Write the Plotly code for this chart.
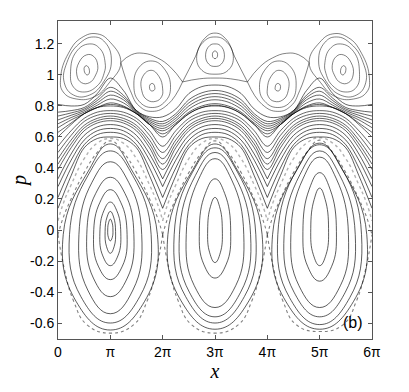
import plotly.graph_objects as go

# Poincare section: x in units of pi, momentum p

# main resonance islands around x = pi, 3pi, 5pi (closed orbits)
isl1_x = [
    [1.05, 1.036, 1, 0.964, 0.95, 0.969, 1, 1.031, 1.05],
    [1.1, 1.072, 1, 0.928, 0.9, 0.938, 1, 1.062, 1.1],
    [1.2, 1.144, 1, 0.856, 0.8, 0.876, 1, 1.124, 1.2],
    [1.32, 1.23, 1, 0.77, 0.68, 0.802, 1, 1.198, 1.32],
    [1.45, 1.324, 1, 0.676, 0.55, 0.721, 1, 1.279, 1.45],
    [1.6, 1.432, 1, 0.568, 0.4, 0.65, 1, 1.35, 1.6],
    [1.78, 1.562, 1, 0.438, 0.22, 0.57, 1, 1.43, 1.78],
    [1.9, 1.655, 1, 0.345, 0.1, 0.58, 1, 1.42, 1.9],
]
isl1_p = [
    [0, -0.049, -0.07, -0.049, 0, 0.05, 0.07, 0.05, 0],
    [-0.01, -0.108, -0.15, -0.108, -0.01, 0.084, 0.12, 0.084, -0.01],
    [-0.02, -0.167, -0.23, -0.167, -0.02, 0.124, 0.18, 0.124, -0.02],
    [-0.03, -0.233, -0.32, -0.233, -0.03, 0.179, 0.26, 0.179, -0.03],
    [-0.03, -0.31, -0.43, -0.31, -0.03, 0.236, 0.34, 0.236, -0.03],
    [-0.03, -0.387, -0.54, -0.387, -0.03, 0.308, 0.44, 0.308, -0.03],
    [-0.03, -0.43, -0.6, -0.43, -0.03, 0.35, 0.51, 0.35, -0.03],
    [-0.03, -0.46, -0.645, -0.46, -0.03, 0.38, 0.555, 0.38, -0.03],
]
isl3_x = [
    [3.14, 3.101, 3, 2.899, 2.86, 2.913, 3, 3.087, 3.14],
    [3.3, 3.216, 3, 2.784, 2.7, 2.814, 3, 3.186, 3.3],
    [3.55, 3.396, 3, 2.604, 2.45, 2.681, 3, 3.319, 3.55],
    [3.68, 3.49, 3, 2.51, 2.32, 2.626, 3, 3.374, 3.68],
    [3.78, 3.562, 3, 2.438, 2.22, 2.57, 3, 3.43, 3.78],
    [3.9, 3.648, 3, 2.352, 2.1, 2.57, 3, 3.43, 3.9],
]
isl3_p = [
    [0, -0.147, -0.21, -0.147, 0, 0.151, 0.21, 0.151, 0],
    [-0.01, -0.22, -0.31, -0.22, -0.01, 0.235, 0.33, 0.235, -0.01],
    [-0.03, -0.359, -0.5, -0.359, -0.03, 0.323, 0.46, 0.323, -0.03],
    [-0.03, -0.401, -0.56, -0.401, -0.03, 0.352, 0.5, 0.352, -0.03],
    [-0.03, -0.429, -0.6, -0.429, -0.03, 0.373, 0.53, 0.373, -0.03],
    [-0.03, -0.457, -0.64, -0.457, -0.03, 0.385, 0.555, 0.385, -0.03],
]
isl5_x = [
    [5.17, 5.122, 5, 4.878, 4.83, 4.895, 5, 5.105, 5.17],
    [5.32, 5.23, 5, 4.77, 4.68, 4.802, 5, 5.198, 5.32],
    [5.55, 5.396, 5, 4.604, 4.45, 4.681, 5, 5.319, 5.55],
    [5.68, 5.49, 5, 4.51, 4.32, 4.626, 5, 5.374, 5.68],
    [5.8, 5.576, 5, 4.424, 4.2, 4.56, 5, 5.44, 5.8],
    [5.9, 5.648, 5, 4.352, 4.1, 4.57, 5, 5.43, 5.9],
]
isl5_p = [
    [0.01, -0.158, -0.23, -0.158, 0.01, 0.197, 0.27, 0.197, 0.01],
    [-0.01, -0.234, -0.33, -0.234, -0.01, 0.264, 0.37, 0.264, -0.01],
    [-0.03, -0.359, -0.5, -0.359, -0.03, 0.33, 0.47, 0.33, -0.03],
    [-0.03, -0.401, -0.56, -0.401, -0.03, 0.359, 0.51, 0.359, -0.03],
    [-0.03, -0.436, -0.61, -0.436, -0.03, 0.388, 0.55, 0.388, -0.03],
    [-0.03, -0.46, -0.64, -0.46, -0.03, 0.39, 0.56, 0.39, -0.03],
]

# separatrix arcs of the main islands (meeting at x = 0, 2pi, 4pi, 6pi)
sep_x = [
    [0, 0.1, 0.25, 0.5, 0.75, 1, 1.25, 1.5, 1.75, 1.9, 2],
    [0, 0.12, 0.3, 0.55, 1, 1.45, 1.7, 1.88, 2],
    [2, 2.1, 2.25, 2.5, 2.75, 3, 3.25, 3.5, 3.75, 3.9, 4],
    [2, 2.12, 2.3, 2.55, 3, 3.45, 3.7, 3.88, 4],
    [4, 4.1, 4.25, 4.5, 4.75, 5, 5.25, 5.5, 5.75, 5.9, 6],
    [4, 4.12, 4.3, 4.55, 5, 5.45, 5.7, 5.88, 6],
]
sep_p = [
    [-0.03, 0.08, 0.2, 0.37, 0.5, 0.575, 0.5, 0.37, 0.2, 0.08, -0.03],
    [-0.03, -0.25, -0.46, -0.61, -0.665, -0.61, -0.46, -0.25, -0.03],
    [-0.03, 0.08, 0.2, 0.37, 0.5, 0.575, 0.5, 0.37, 0.2, 0.08, -0.03],
    [-0.03, -0.25, -0.46, -0.61, -0.665, -0.61, -0.46, -0.25, -0.03],
    [-0.03, 0.08, 0.2, 0.37, 0.5, 0.58, 0.5, 0.37, 0.2, 0.08, -0.03],
    [-0.03, -0.25, -0.46, -0.61, -0.655, -0.61, -0.46, -0.25, -0.03],
]

# chaotic layer just outside the upper separatrix
layer_x = [
    [0, 0.1, 0.25, 0.5, 0.75, 1, 1.25, 1.5, 1.75, 1.9, 2],
    [2, 2.1, 2.25, 2.5, 2.75, 3, 3.25, 3.5, 3.75, 3.9, 4],
    [4, 4.1, 4.25, 4.5, 4.75, 5, 5.25, 5.5, 5.75, 5.9, 6],
]
layer_p = [
    [0.06, 0.17, 0.29, 0.46, 0.56, 0.59, 0.56, 0.46, 0.29, 0.17, 0.06],
    [0.06, 0.17, 0.29, 0.46, 0.56, 0.59, 0.56, 0.46, 0.29, 0.17, 0.06],
    [0.06, 0.17, 0.29, 0.46, 0.56, 0.595, 0.56, 0.46, 0.29, 0.17, 0.06],
]

# rotational (wavy) orbits, sampled every pi/4
rot_x = [0, 0.25, 0.5, 0.75, 1, 1.25, 1.5, 1.75, 2, 2.25, 2.5, 2.75, 3,
         3.25, 3.5, 3.75, 4, 4.25, 4.5, 4.75, 5, 5.25, 5.5, 5.75, 6]
rot_low_p = [
    [0.14, 0.35, 0.53, 0.59, 0.6, 0.59, 0.53, 0.35, 0.14, 0.35, 0.53, 0.59, 0.6,
     0.59, 0.53, 0.35, 0.14, 0.35, 0.53, 0.59, 0.6, 0.59, 0.53, 0.35, 0.14],
    [0.21, 0.4, 0.55, 0.615, 0.63, 0.615, 0.55, 0.4, 0.21, 0.4, 0.55, 0.615, 0.63,
     0.615, 0.55, 0.4, 0.21, 0.4, 0.55, 0.615, 0.63, 0.615, 0.55, 0.4, 0.21],
    [0.28, 0.45, 0.58, 0.64, 0.655, 0.64, 0.58, 0.45, 0.28, 0.45, 0.58, 0.64, 0.655,
     0.64, 0.58, 0.45, 0.28, 0.45, 0.58, 0.64, 0.655, 0.64, 0.58, 0.45, 0.28],
    [0.33, 0.49, 0.61, 0.665, 0.68, 0.665, 0.61, 0.49, 0.33, 0.49, 0.61, 0.665, 0.68,
     0.665, 0.61, 0.49, 0.33, 0.49, 0.61, 0.665, 0.68, 0.665, 0.61, 0.49, 0.33],
]
rot_mid_p = [
    [0.39, 0.53, 0.64, 0.69, 0.705, 0.69, 0.64, 0.53, 0.39, 0.53, 0.64, 0.69, 0.705,
     0.69, 0.64, 0.53, 0.39, 0.53, 0.64, 0.69, 0.705, 0.69, 0.64, 0.53, 0.39],
    [0.425, 0.555, 0.658, 0.705, 0.72, 0.705, 0.658, 0.555, 0.425, 0.555, 0.658, 0.705, 0.72,
     0.705, 0.658, 0.555, 0.425, 0.555, 0.658, 0.705, 0.72, 0.705, 0.658, 0.555, 0.425],
    [0.46, 0.58, 0.675, 0.72, 0.735, 0.72, 0.675, 0.58, 0.46, 0.58, 0.675, 0.72, 0.735,
     0.72, 0.675, 0.58, 0.46, 0.58, 0.675, 0.72, 0.735, 0.72, 0.675, 0.58, 0.46],
    [0.5, 0.61, 0.7, 0.74, 0.752, 0.74, 0.7, 0.61, 0.5, 0.61, 0.7, 0.74, 0.752,
     0.74, 0.7, 0.61, 0.5, 0.61, 0.7, 0.74, 0.752, 0.74, 0.7, 0.61, 0.5],
    [0.54, 0.64, 0.72, 0.76, 0.77, 0.76, 0.72, 0.64, 0.54, 0.64, 0.72, 0.76, 0.77,
     0.76, 0.72, 0.64, 0.54, 0.64, 0.72, 0.76, 0.77, 0.76, 0.72, 0.64, 0.54],
    [0.6, 0.68, 0.75, 0.79, 0.8, 0.79, 0.75, 0.68, 0.6, 0.68, 0.75, 0.79, 0.8,
     0.79, 0.75, 0.68, 0.6, 0.68, 0.75, 0.79, 0.8, 0.79, 0.75, 0.68, 0.6],
    [0.63, 0.69, 0.75, 0.79, 0.81, 0.795, 0.75, 0.68, 0.62, 0.68, 0.75, 0.79, 0.805,
     0.79, 0.75, 0.68, 0.62, 0.68, 0.75, 0.795, 0.81, 0.79, 0.75, 0.69, 0.63],
    [0.66, 0.71, 0.75, 0.79, 0.82, 0.8, 0.75, 0.68, 0.64, 0.69, 0.76, 0.8, 0.815,
     0.8, 0.76, 0.69, 0.64, 0.68, 0.75, 0.8, 0.82, 0.79, 0.75, 0.71, 0.66],
    [0.685, 0.725, 0.76, 0.805, 0.845, 0.82, 0.755, 0.69, 0.655, 0.705, 0.78, 0.825, 0.84,
     0.825, 0.78, 0.705, 0.655, 0.69, 0.755, 0.82, 0.845, 0.805, 0.76, 0.725, 0.685],
    [0.71, 0.74, 0.77, 0.82, 0.87, 0.84, 0.76, 0.7, 0.67, 0.72, 0.8, 0.845, 0.86,
     0.845, 0.8, 0.72, 0.67, 0.7, 0.76, 0.84, 0.87, 0.82, 0.77, 0.74, 0.71],
    [0.735, 0.755, 0.78, 0.835, 0.895, 0.855, 0.765, 0.71, 0.685, 0.735, 0.82, 0.865, 0.88,
     0.865, 0.82, 0.735, 0.685, 0.71, 0.765, 0.855, 0.895, 0.835, 0.78, 0.755, 0.735],
    [0.76, 0.77, 0.79, 0.85, 0.92, 0.87, 0.77, 0.72, 0.7, 0.75, 0.84, 0.885, 0.9,
     0.885, 0.84, 0.75, 0.7, 0.72, 0.77, 0.87, 0.92, 0.85, 0.79, 0.77, 0.76],
    [0.81, 0.8, 0.81, 0.88, 0.98, 0.9, 0.77, 0.73, 0.73, 0.78, 0.88, 0.925, 0.935,
     0.925, 0.88, 0.78, 0.73, 0.73, 0.77, 0.9, 0.98, 0.88, 0.81, 0.8, 0.81],
]

# upper island chain near p = 1 (centres ~0.55pi, 1.8pi, 3pi, 4.2pi, 5.45pi)
chain_x = [
    [0.6, 0.58, 0.54, 0.505, 0.5, 0.52, 0.56, 0.595, 0.6],
    [0.76, 0.68, 0.55, 0.4, 0.36, 0.45, 0.6, 0.72, 0.76],
    [0.9, 0.8, 0.6, 0.35, 0.24, 0.3, 0.5, 0.75, 0.88, 0.9],
    [1.02, 0.9, 0.68, 0.4, 0.17, 0.12, 0.3, 0.6, 0.88, 1.02],
    [1.2, 1.0, 0.75, 0.45, 0.2, 0.05, 0.1, 0.35, 0.7, 0.98, 1.2],
    [1.85, 1.83, 1.79, 1.755, 1.75, 1.77, 1.81, 1.845, 1.85],
    [2.0, 1.93, 1.78, 1.62, 1.6, 1.7, 1.87, 1.98, 2.0],
    [2.15, 2.03, 1.8, 1.55, 1.45, 1.55, 1.8, 2.05, 2.15],
    [1.2, 1.4, 1.63, 1.9, 2.15, 2.38],
    [1.2, 1.38, 1.55, 1.8, 2.1, 2.38],
    [3.05, 3.035, 3.0, 2.965, 2.95, 2.965, 3.0, 3.035, 3.05],
    [3.18, 3.1, 3.0, 2.9, 2.82, 2.88, 3.0, 3.12, 3.18],
    [3.35, 3.2, 3.0, 2.8, 2.65, 2.75, 3.0, 3.25, 3.35],
    [2.38, 2.6, 2.8, 3.0, 3.2, 3.4, 3.62],
    [2.38, 2.7, 3.0, 3.3, 3.62],
    [4.15, 4.17, 4.21, 4.245, 4.25, 4.23, 4.19, 4.155, 4.15],
    [4.0, 4.07, 4.22, 4.38, 4.4, 4.3, 4.13, 4.02, 4.0],
    [3.85, 3.97, 4.2, 4.45, 4.55, 4.45, 4.2, 3.95, 3.85],
    [3.62, 3.85, 4.1, 4.37, 4.6, 4.8],
    [3.62, 3.9, 4.2, 4.45, 4.62, 4.8],
    [5.4, 5.42, 5.46, 5.495, 5.5, 5.48, 5.44, 5.405, 5.4],
    [5.24, 5.32, 5.45, 5.6, 5.64, 5.55, 5.4, 5.28, 5.24],
    [5.1, 5.2, 5.4, 5.65, 5.76, 5.7, 5.5, 5.25, 5.12, 5.1],
    [4.98, 5.1, 5.32, 5.6, 5.83, 5.88, 5.7, 5.4, 5.12, 4.98],
    [4.8, 5.0, 5.25, 5.55, 5.8, 5.95, 5.9, 5.65, 5.3, 5.02, 4.8],
]
chain_p = [
    [1.03, 1.05, 1.06, 1.05, 1.03, 1.01, 1.0, 1.01, 1.03],
    [1.06, 1.12, 1.13, 1.08, 1.0, 0.95, 0.95, 1.0, 1.06],
    [1.08, 1.17, 1.2, 1.15, 1.02, 0.92, 0.89, 0.93, 1.01, 1.08],
    [1.09, 1.21, 1.245, 1.2, 1.08, 0.95, 0.87, 0.87, 0.96, 1.09],
    [1.08, 1.21, 1.265, 1.24, 1.14, 0.98, 0.89, 0.845, 0.86, 0.95, 1.08],
    [0.92, 0.94, 0.945, 0.935, 0.915, 0.9, 0.897, 0.905, 0.92],
    [0.91, 0.99, 1.03, 0.99, 0.9, 0.84, 0.83, 0.86, 0.91],
    [0.92, 1.04, 1.09, 1.05, 0.93, 0.83, 0.79, 0.83, 0.92],
    [1.08, 1.13, 1.14, 1.11, 1.05, 0.955],
    [1.08, 0.9, 0.8, 0.765, 0.81, 0.955],
    [1.13, 1.148, 1.155, 1.148, 1.13, 1.112, 1.105, 1.112, 1.13],
    [1.13, 1.19, 1.2, 1.19, 1.13, 1.07, 1.055, 1.07, 1.13],
    [1.12, 1.22, 1.245, 1.22, 1.12, 1.03, 1.005, 1.03, 1.12],
    [0.955, 1.1, 1.235, 1.27, 1.235, 1.1, 0.955],
    [0.955, 0.975, 0.98, 0.975, 0.955],
    [0.92, 0.94, 0.945, 0.935, 0.915, 0.9, 0.897, 0.905, 0.92],
    [0.91, 0.99, 1.03, 0.99, 0.9, 0.84, 0.83, 0.86, 0.91],
    [0.92, 1.04, 1.09, 1.05, 0.93, 0.83, 0.79, 0.83, 0.92],
    [0.955, 1.05, 1.11, 1.14, 1.13, 1.08],
    [0.955, 0.81, 0.765, 0.8, 0.9, 1.08],
    [1.03, 1.05, 1.06, 1.05, 1.03, 1.01, 1.0, 1.01, 1.03],
    [1.06, 1.12, 1.13, 1.08, 1.0, 0.95, 0.95, 1.0, 1.06],
    [1.08, 1.17, 1.2, 1.15, 1.02, 0.92, 0.89, 0.93, 1.01, 1.08],
    [1.09, 1.21, 1.245, 1.2, 1.08, 0.95, 0.87, 0.87, 0.96, 1.09],
    [1.08, 1.21, 1.265, 1.24, 1.14, 0.98, 0.89, 0.845, 0.86, 0.95, 1.08],
]

x_ticks = [0, 1, 2, 3, 4, 5, 6]
x_labels = ["0", "π", "2π", "3π", "4π", "5π", "6π"]
y_ticks = [-0.6, -0.4, -0.2, 0, 0.2, 0.4, 0.6, 0.8, 1, 1.2]
y_labels = ["-0.6", "-0.4", "-0.2", "0", "0.2", "0.4", "0.6", "0.8", "1", "1.2"]

fig = go.Figure()


def add_curves(xs, ps, width=0.8, color="rgba(0,0,0,0.8)", dash="solid", smooth=1.3):
    for x, p in zip(xs, ps):
        fig.add_trace(go.Scatter(
            x=x, y=p, mode="lines", hoverinfo="skip", showlegend=False,
            line=dict(color=color, width=width, dash=dash, shape="spline", smoothing=smooth)))


add_curves(layer_x, layer_p, width=1.4, color="rgba(0,0,0,0.3)", dash="dot")
add_curves(sep_x, sep_p, width=1.1, color="rgba(0,0,0,0.5)", dash="dot")
add_curves(isl1_x, isl1_p)
add_curves(isl3_x, isl3_p)
add_curves(isl5_x, isl5_p)
# low wavy orbits have sharp troughs: draw them one period at a time
for p in rot_low_p:
    for k in range(3):
        add_curves([rot_x[8 * k:8 * k + 9]], [p[8 * k:8 * k + 9]], smooth=1)
add_curves([rot_x] * len(rot_mid_p), rot_mid_p, width=0.75, smooth=1)
add_curves(chain_x, chain_p, width=0.7, color="rgba(0,0,0,0.7)")

fig.add_annotation(x=0.94, y=0.053, xref="paper", yref="paper", text="(b)",
                   xanchor="center", yanchor="middle", showarrow=False,
                   font=dict(family="Liberation Sans", size=16, color="black"))

axis_style = dict(ticks="inside", ticklen=4, tickcolor="#555", mirror="ticks",
                  showline=True, linecolor="#555", linewidth=1, showgrid=False,
                  zeroline=False, automargin=False,
                  tickfont=dict(family="Liberation Sans", size=14, color="black"))
fig.update_xaxes(range=[0, 6], tickvals=x_ticks, ticktext=x_labels, **axis_style,
                 title=dict(text="<i>x</i>", standoff=0,
                            font=dict(family="Liberation Serif", size=20, color="black")))
fig.update_yaxes(range=[-0.703, 1.348], tickvals=y_ticks, ticktext=y_labels, **axis_style,
                 title=dict(text="<i>p</i>", standoff=0,
                            font=dict(family="Liberation Serif", size=20, color="black")))
# the page body adds an 8px offset, so margins are shifted to keep the plot box in place
fig.update_layout(width=409, height=392, margin=dict(l=50, r=45, t=13, b=61),
                  plot_bgcolor="white", paper_bgcolor="white")

fig.write_html("out.html")
